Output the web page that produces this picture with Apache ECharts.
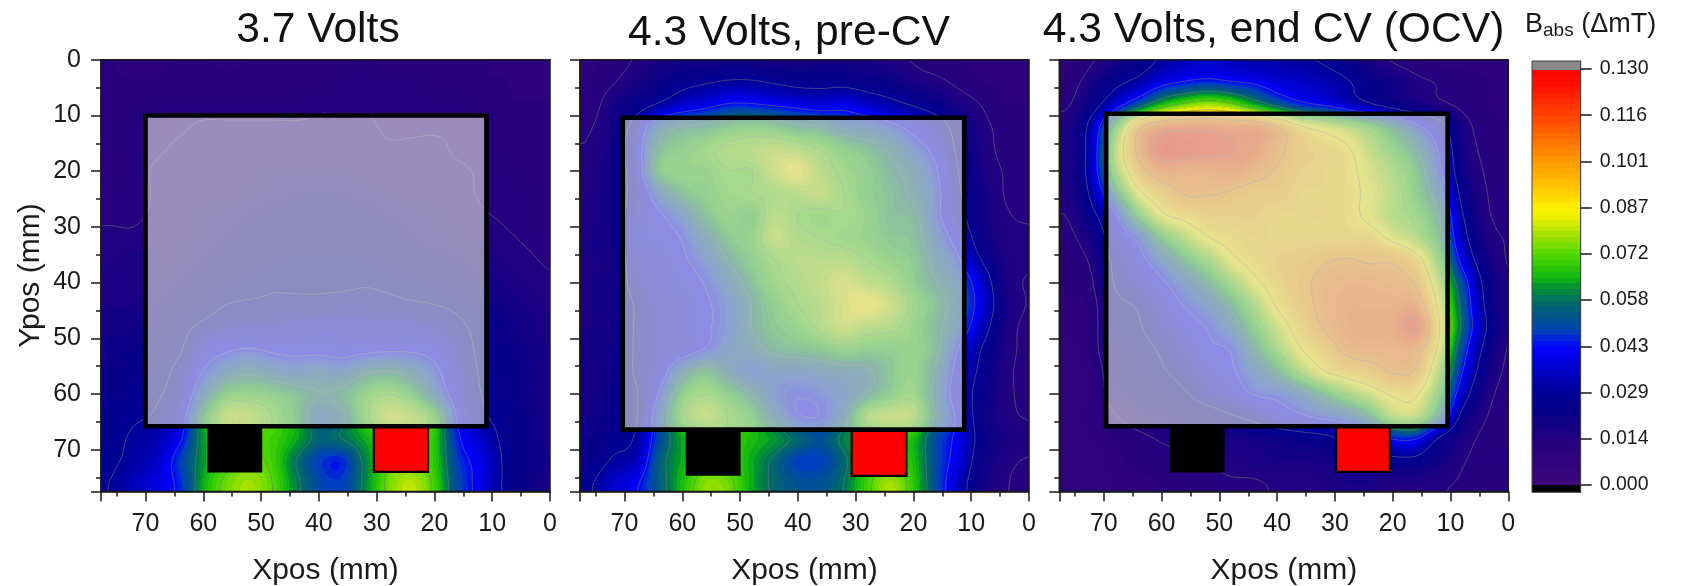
<!DOCTYPE html>
<html>
<head>
<meta charset="utf-8">
<style>html,body{margin:0;padding:0;background:#fff}#c{width:1693px;height:586px}</style>
<script src="https://cdn.jsdelivr.net/npm/echarts@6/dist/echarts.min.js"></script>
</head>
<body>
<div id="c"></div>
<script>
// Grid nodes in mm; values in microtesla (1/1000 of the mT colour scale)
const xNodes = [76,72,68,64,60,56,52,48,44,40,36,32,28,24,20,16,12,8,4,0];
const yNodes = [0,4,8,12,16,20,24,28,32,36,40,44,48,52,56,60,64,68,72,76];
const values37V = [
[11,10,10,11,11,10,11,11,11,11,12,13,12,12,11,11,11,10,10,10],
[11,11,11,12,12,12,12,12,12,12,13,13,13,13,12,12,11,11,10,10],
[12,12,13,13,13,13,13,13,13,14,14,14,14,14,13,13,12,11,11,11],
[12,13,14,14,15,15,15,15,15,15,15,15,14,14,14,14,13,12,11,11],
[12,13,14,15,16,16,16,16,17,17,17,16,15,15,15,14,13,12,12,12],
[12,13,15,16,17,16,17,18,18,18,18,17,17,16,15,15,14,13,12,12],
[13,13,15,16,17,17,18,19,20,20,20,19,18,17,17,16,14,13,13,12],
[14,14,15,16,18,19,20,21,21,22,21,21,20,19,18,17,15,14,13,12],
[15,15,16,17,19,20,21,22,22,23,23,22,21,20,19,18,16,15,14,13],
[16,17,17,18,20,22,23,24,24,24,24,24,23,22,21,20,18,16,15,14],
[17,17,18,20,22,24,26,28,27,27,27,28,27,25,24,22,20,18,16,15],
[18,18,20,22,25,29,30,30,31,31,32,32,31,30,29,27,23,20,18,16],
[19,20,22,26,31,34,35,35,36,37,37,36,36,36,34,31,26,22,19,17],
[21,22,24,28,38,42,44,42,41,41,40,41,42,42,40,34,27,23,20,18],
[22,24,26,32,44,52,56,52,50,52,50,56,58,54,46,36,28,24,21,18],
[24,26,28,34,52,66,68,66,62,58,60,68,72,66,52,38,29,25,21,18],
[26,28,30,38,62,78,78,72,64,52,56,70,80,78,68,42,31,26,22,19],
[27,30,33,42,62,72,72,70,64,56,58,64,72,74,68,45,36,27,22,19],
[28,31,36,48,62,70,74,70,58,48,46,60,72,74,68,48,40,28,22,20],
[29,34,39,46,64,74,78,72,60,50,48,60,74,80,70,50,40,28,22,18]];
const values43Pre = [
[10,12,15,18,20,20,20,20,19,18,19,19,18,16,14,12,11,10,10,10],
[11,14,18,22,26,28,30,30,28,26,26,26,24,22,18,16,13,11,10,10],
[12,18,24,30,36,40,44,44,42,40,38,40,36,32,28,24,18,14,11,11],
[14,20,34,52,58,60,64,66,64,60,58,52,50,46,40,34,24,16,13,12],
[15,21,38,60,66,70,74,76,78,76,72,66,62,56,48,40,26,17,13,12],
[15,22,36,64,68,68,72,72,80,84,76,70,66,60,54,44,28,18,14,13],
[16,22,34,50,62,66,70,72,74,76,78,72,66,62,56,46,30,20,14,13],
[17,22,36,42,50,62,68,66,76,72,70,72,68,62,60,46,32,20,15,14],
[18,21,38,40,44,54,64,68,78,74,72,70,68,64,62,50,38,22,16,15],
[18,20,36,38,42,48,58,66,72,76,76,76,72,68,64,54,44,28,17,15],
[18,20,34,38,40,44,52,62,70,74,78,82,78,74,66,58,50,36,18,14],
[18,20,30,36,38,42,48,58,66,72,76,82,86,80,70,62,52,38,20,14],
[18,20,30,36,38,42,48,58,64,68,74,80,76,74,68,60,50,34,18,13],
[19,21,30,36,38,44,50,54,60,62,64,68,66,66,68,60,42,28,17,13],
[19,22,30,38,54,62,54,48,50,50,52,54,56,64,68,56,38,26,16,13],
[19,23,28,44,66,72,66,58,48,44,46,50,58,66,70,54,36,24,16,13],
[20,24,28,50,70,78,72,66,54,44,44,54,74,78,76,56,40,22,16,14],
[22,26,30,50,64,68,70,66,62,56,52,60,66,68,66,50,40,24,18,16],
[24,30,34,54,64,70,70,64,56,48,48,56,68,70,66,50,38,22,16,14],
[28,36,42,54,66,76,74,64,56,52,52,58,70,78,68,50,34,20,15,12]];
const values43End = [
[10,14,18,24,30,34,36,34,32,32,30,28,24,18,14,12,10,10,10,10],
[12,18,26,32,40,44,46,44,42,38,36,34,30,24,20,16,14,12,11,10],
[14,24,38,52,66,74,78,74,64,54,46,42,36,30,24,20,16,13,11,10],
[18,34,66,98,110,112,112,110,110,102,88,82,76,68,58,46,34,18,12,11],
[18,36,76,104,120,120,118,116,112,104,96,92,88,78,68,58,42,20,13,11],
[18,36,72,96,108,108,108,110,106,100,94,92,90,82,74,64,46,22,14,12],
[17,32,58,84,94,102,102,100,96,96,92,92,90,84,76,66,52,26,15,12],
[15,26,42,66,84,90,94,94,94,92,92,92,90,84,76,70,58,30,16,13],
[13,20,36,46,64,76,86,90,92,92,92,92,92,92,84,76,62,34,18,14],
[12,16,32,40,50,62,72,84,90,94,96,100,102,100,100,92,70,40,22,14],
[12,14,30,36,42,50,60,72,84,92,98,104,106,106,104,100,78,50,26,16],
[10,12,26,30,38,44,50,60,74,88,96,104,108,108,108,108,84,54,28,16],
[10,12,24,28,34,40,44,52,66,80,92,102,108,110,110,117,88,56,30,16],
[8,12,22,26,30,36,42,44,58,72,86,94,104,106,106,106,84,50,26,14],
[8,10,20,24,28,32,38,42,50,60,74,86,92,96,102,100,76,44,22,13],
[8,10,18,22,24,28,34,38,44,46,52,62,72,80,88,88,68,36,18,12],
[8,10,14,18,20,22,24,28,32,38,42,46,50,60,76,78,56,26,15,12],
[8,9,11,13,15,16,17,18,20,22,24,26,30,36,44,44,28,18,13,12],
[8,8,10,12,13,14,15,16,17,18,18,19,22,24,26,26,20,15,13,14],
[8,8,9,10,11,12,13,14,14,15,15,16,18,18,16,16,15,14,12,12]];

const panelTitles = ['3.7 Volts','4.3 Volts, pre-CV','4.3 Volts, end CV (OCV)'];
// [xLeft, xRight, yTop, yBottom] in mm
const boxes = [[70,11,10,65.8],[70.3,11.2,10.4,66.4],[69.6,10.5,9.7,65.8]];
const blackTabs = [[59.3,49.8,66,74.1],[59.4,49.9,66.4,74.7],[58.6,49.1,65.8,74.1]];
const redTabs = [[30.5,21.1,65.8,74],[30.7,21.2,66.4,74.7],[29.8,20.5,65.8,74]];
const barTicks = [0,0.01444,0.02889,0.04333,0.05778,0.07222,0.08667,0.10111,0.11556,0.13];
const barBands = 72;

const colorStops = [
[0,[62,8,122]],[14,[36,0,127]],[22,[10,0,136]],[29,[0,0,150]],[36,[0,0,200]],[43,[0,0,255]],
[48,[0,64,190]],[52,[0,80,144]],[58,[0,112,96]],[62,[0,146,48]],[65,[16,184,16]],[72,[80,216,0]],
[78,[160,224,0]],[84,[240,240,0]],[87,[255,240,0]],[94,[255,192,0]],[101,[255,156,0]],
[108,[255,112,0]],[116,[255,64,0]],[125,[255,16,0]],[130,[255,0,0]]];
function colorOf(v){
  const lv = Math.max(0,Math.min(130,(Math.floor(v/130*barBands)+0.5)*130/barBands));
  for(let i=1;i<colorStops.length;i++){
    if(lv<=colorStops[i][0]){
      const a=colorStops[i-1],b=colorStops[i],t=(lv-a[0])/(b[0]-a[0]);
      return [0,1,2].map(k=>Math.round(a[1][k]+(b[1][k]-a[1][k])*t));
    }
  }
  return [255,0,0];
}
function cr(p0,p1,p2,p3,t){
  return 0.5*(2*p1+(p2-p0)*t+(2*p0-5*p1+4*p2-p3)*t*t+(3*p1-p0-3*p2+p3)*t*t*t);
}
// Smooth shading between the read nodes, done only while painting
function shade(rows,xmm,ymm){
  const fx=(76-xmm)/4, fy=ymm/4;
  const ix=Math.floor(fx), iy=Math.floor(fy), tx=fx-ix, ty=fy-iy;
  const g=(r,c)=>rows[Math.max(0,Math.min(19,r))][Math.max(0,Math.min(19,c))];
  const col=[];
  for(let r=-1;r<=2;r++){
    col.push(cr(g(iy+r,ix-1),g(iy+r,ix),g(iy+r,ix+1),g(iy+r,ix+2),tx));
  }
  return cr(col[0],col[1],col[2],col[3],ty);
}
const FONT='"Liberation Sans",Arial,sans-serif';
const XMAX=77.7, YMAX=77.5;
const INK='#1a1a1a';

function cellRange(val,maxv){ return [Math.max(0,val-2),Math.min(maxv,val+2)]; }
function heatItem(rows){
  return function(params,api){
    const xn=api.value(0), yn=api.value(1);
    const xr=cellRange(xn,XMAX), yr=cellRange(yn,YMAX);
    const p0=api.coord([xr[1],yr[0]]), p1=api.coord([xr[0],yr[1]]);
    const x0=Math.floor(p0[0]), y0=Math.floor(p0[1]);
    const w=Math.ceil(p1[0])-x0, h=Math.ceil(p1[1])-y0;
    const cv=document.createElement('canvas'); cv.width=w; cv.height=h;
    const ctx=cv.getContext('2d'), img=ctx.createImageData(w,h);
    const sx=(xr[0]-xr[1])/(p1[0]-p0[0]), sy=(yr[1]-yr[0])/(p1[1]-p0[1]);
    for(let j=0;j<h;j++){
      for(let i=0;i<w;i++){
        const mx=xr[1]+(x0+i+0.5-p0[0])*sx, my=yr[0]+(y0+j+0.5-p0[1])*sy;
        const c=colorOf(shade(rows,mx,my)), o=(j*w+i)*4;
        img.data[o]=c[0];img.data[o+1]=c[1];img.data[o+2]=c[2];img.data[o+3]=255;
      }
    }
    ctx.putImageData(img,0,0);
    return {type:'image',silent:true,style:{image:cv,x:x0,y:y0,width:w,height:h}};
  };
}
const contourLevels = barTicks.slice(1,9).map(v=>v*1000);
function contourItem(rows){
  return function(params,api){
    const xn=api.value(0), yn=api.value(1);
    const xr=cellRange(xn,XMAX), yr=cellRange(yn,YMAX);
    const N=4, kids=[];
    const dx=(xr[1]-xr[0])/N, dy=(yr[1]-yr[0])/N;
    const seg=(a,b)=>{
      const p=api.coord(a), q=api.coord(b);
      kids.push({type:'line',silent:true,shape:{x1:p[0],y1:p[1],x2:q[0],y2:q[1]},
        style:{stroke:'rgba(115,115,120,0.7)',lineWidth:0.8,fill:null}});
    };
    for(let a=0;a<N;a++)for(let b=0;b<N;b++){
      const X0=xr[0]+a*dx,X1=X0+dx,Y0=yr[0]+b*dy,Y1=Y0+dy;
      const v=[shade(rows,X0,Y0),shade(rows,X1,Y0),shade(rows,X1,Y1),shade(rows,X0,Y1)];
      const P=[[X0,Y0],[X1,Y0],[X1,Y1],[X0,Y1]];
      contourLevels.forEach(L=>{
        const pts=[];
        for(let k=0;k<4;k++){
          const u=v[k],w=v[(k+1)%4];
          if((u<L)!==(w<L)){
            const t=(L-u)/(w-u),A=P[k],B=P[(k+1)%4];
            pts.push([A[0]+(B[0]-A[0])*t,A[1]+(B[1]-A[1])*t]);
          }
        }
        if(pts.length>=2)seg(pts[0],pts[1]);
        if(pts.length===4)seg(pts[2],pts[3]);
      });
    }
    return {type:'group',children:kids};
  };
}
function rectItem(fill,stroke,lw){
  return function(params,api){
    const a=api.coord([api.value(0),api.value(2)]), b=api.coord([api.value(1),api.value(3)]);
    return {type:'rect',silent:true,shape:{x:a[0],y:a[1],width:b[0]-a[0],height:b[1]-a[1]},
      style:{fill:fill,stroke:stroke,lineWidth:lw}};
  };
}

const gridLefts=[101,580,1059.3];
const titleCenters=[318,789,1273.5];
const titleTops=[9,12,9];
const grids=[],xAxes=[],yAxes=[],series=[],titles=[];
const allValues=[values37V,values43Pre,values43End];
allValues.forEach((rows,p)=>{
  grids.push({left:gridLefts[p],top:59.8,width:449,height:431.6,show:true,z:5,outerBoundsMode:'none',
    borderColor:INK,borderWidth:1.5,backgroundColor:'transparent'});
  xAxes.push({gridIndex:p,type:'value',inverse:true,min:0,max:XMAX,interval:10,z:6,
    splitLine:{show:false},
    axisLine:{onZero:false,lineStyle:{color:INK,width:1.5}},
    axisTick:{length:10,lineStyle:{color:INK,width:1.5}},
    minorTick:{show:true,splitNumber:2,length:5,lineStyle:{color:INK,width:1.5}},
    axisLabel:{color:INK,fontFamily:FONT,fontSize:25,margin:20,showMaxLabel:false},
    name:'Xpos (mm)',nameLocation:'middle',nameGap:64,
    nameTextStyle:{color:INK,fontFamily:FONT,fontSize:30}});
  const y={gridIndex:p,type:'value',inverse:true,min:0,max:YMAX,interval:10,z:6,
    splitLine:{show:false},
    axisLine:{onZero:false,lineStyle:{color:INK,width:1.5}},
    axisTick:{length:10,lineStyle:{color:INK,width:1.5}},
    minorTick:{show:true,splitNumber:2,length:5,lineStyle:{color:INK,width:1.5}},
    axisLabel:{show:p===0,color:INK,fontFamily:FONT,fontSize:25,margin:20,showMaxLabel:false}};
  if(p===0){Object.assign(y,{name:'Ypos (mm)',nameLocation:'middle',nameGap:55,
    nameTextStyle:{color:INK,fontFamily:FONT,fontSize:30}});}
  yAxes.push(y);
  const flat=[];
  rows.forEach((r,j)=>r.forEach((v,i)=>flat.push([xNodes[i],yNodes[j],v])));
  const base={type:'custom',xAxisIndex:p,yAxisIndex:p,coordinateSystem:'cartesian2d',
    animation:false,clip:false,silent:true};
  series.push(Object.assign({},base,{name:panelTitles[p],z:2,data:flat,encode:{x:0,y:1},renderItem:heatItem(rows)}));
  series.push(Object.assign({},base,{name:panelTitles[p]+' contours',z:3,data:flat,encode:{x:0,y:1},renderItem:contourItem(rows)}));
  series.push(Object.assign({},base,{name:'black tab',z:4,data:[blackTabs[p]],encode:{x:[0,1],y:[2,3]},renderItem:rectItem('#000','#000',0)}));
  series.push(Object.assign({},base,{name:'red tab',z:4,data:[redTabs[p]],encode:{x:[0,1],y:[2,3]},renderItem:rectItem('#ff0000','#000',2.2)}));
  series.push(Object.assign({},base,{name:'cell outline',z:4,data:[boxes[p]],encode:{x:[0,1],y:[2,3]},renderItem:rectItem('rgba(219,219,219,0.64)','#000',4.6)}));
  titles.push({text:panelTitles[p],left:titleCenters[p],top:titleTops[p],textAlign:'center',padding:0,
    textStyle:{color:'#111',fontFamily:FONT,fontSize:42.6,fontWeight:'normal'}});
});

// Colour bar
const barData=[];
for(let i=0;i<barBands;i++){
  const lo=i*130/barBands/1000, hi=(i+1)*130/barBands/1000;
  barData.push([lo,hi,i]);
}
const BMIN=-0.00228, BMAX=0.1325;
grids.push({left:1532,top:61,width:48.7,height:431.3,show:true,z:5,outerBoundsMode:'none',borderColor:'#444',borderWidth:1,backgroundColor:'transparent'});
xAxes.push({gridIndex:3,type:'value',min:0,max:1,show:false});
yAxes.push({gridIndex:3,type:'value',position:'right',min:BMIN,max:BMAX,z:6,
  splitLine:{show:false},
  axisLine:{show:true,onZero:false,lineStyle:{color:'#444',width:1}},
  axisTick:{show:true,length:11,customValues:barTicks,lineStyle:{color:INK,width:1.5}},
  axisLabel:{show:true,customValues:barTicks,color:INK,fontFamily:FONT,fontSize:19.5,margin:19,
    formatter:v=>Number(v).toFixed(3)}});
const barRect=function(params,api){
  const a=api.coord([0,api.value(1)]), b=api.coord([1,api.value(0)]);
  const c=api.value(3);
  return {type:'rect',silent:true,shape:{x:a[0],y:Math.floor(a[1]),width:b[0]-a[0],height:Math.ceil(b[1])-Math.floor(a[1])},
    style:{fill:c<0?(c===-1?'#000':'#888'):'rgb('+colorOf(api.value(0)*1000+0.1).join(',')+')'}};
};
const barRows=barData.map(d=>[d[0],d[1],d[2],d[2]]);
barRows.push([BMIN,0,0,-1],[0.13,BMAX,0,-2]);
series.push({type:'custom',xAxisIndex:3,yAxisIndex:3,animation:false,silent:true,z:2,clip:true,
  name:'colour bar',data:barRows,encode:{y:[0,1]},renderItem:barRect});
titles.push({text:'{a|B}{b|abs}{a| (ΔmT)}',left:1525,top:9,padding:0,textStyle:{fontWeight:'normal',
  rich:{a:{fontFamily:FONT,fontSize:27,color:INK,fontWeight:'normal'},
        b:{fontFamily:FONT,fontSize:19,color:INK,fontWeight:'normal',padding:[12,0,0,0]}}}});

const chart=echarts.init(document.getElementById('c'),null,{renderer:'canvas',width:1693,height:586});
chart.setOption({animation:false,backgroundColor:'#fff',title:titles,grid:grids,xAxis:xAxes,yAxis:yAxes,series:series});
</script>
</body>
</html>
